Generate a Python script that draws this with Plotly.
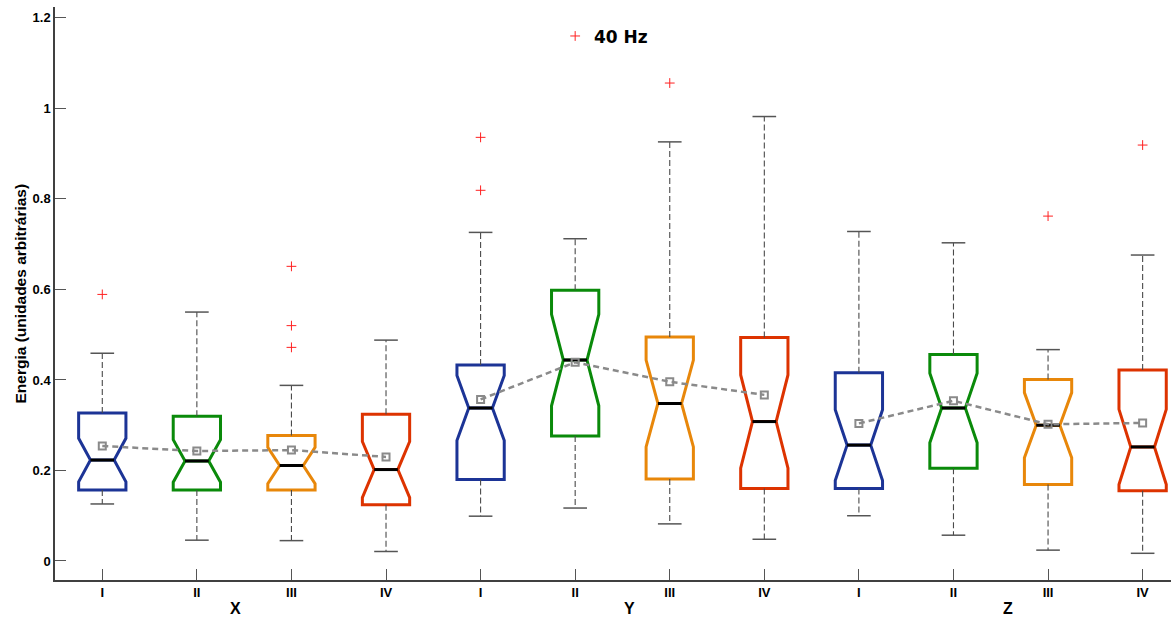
import plotly.graph_objects as go

# ---------------- data ----------------
groups = ["X", "Y", "Z"]
conditions = ["I", "II", "III", "IV"]
tick_labels = conditions * 3
positions = list(range(1, 13))

q1 = [0.157, 0.157, 0.157, 0.124, 0.180, 0.276, 0.181, 0.160, 0.160, 0.205, 0.169, 0.155]
median = [0.223, 0.221, 0.211, 0.202, 0.338, 0.444, 0.348, 0.308, 0.256, 0.338, 0.300, 0.252]
q3 = [0.327, 0.320, 0.277, 0.324, 0.433, 0.598, 0.495, 0.494, 0.416, 0.456, 0.401, 0.422]
lower_whisker = [0.126, 0.046, 0.045, 0.021, 0.099, 0.117, 0.082, 0.048, 0.100, 0.057, 0.024, 0.017]
upper_whisker = [0.459, 0.550, 0.388, 0.488, 0.726, 0.712, 0.926, 0.982, 0.728, 0.703, 0.467, 0.676]
notch_span = [0.048, 0.047, 0.040, 0.062, 0.072, 0.101, 0.096, 0.103, 0.078, 0.077, 0.072, 0.083]
means = [0.254, 0.243, 0.245, 0.230, 0.357, 0.439, 0.396, 0.367, 0.304, 0.354, 0.302, 0.305]
outliers = [[0.589], [], [0.651, 0.520, 0.472], [],
            [0.936, 0.819], [1.160], [1.056], [],
            [], [], [0.762], [0.919]]

title_text = "40 Hz"
y_label = "Energia (unidades arbitrárias)"
y_ticks = [0, 0.2, 0.4, 0.6, 0.8, 1.0, 1.2]
y_tick_text = ["0", "0.2", "0.4", "0.6", "0.8", "1", "1.2"]

# ---------------- styles ----------------
cond_colors = ["#1c3496", "#0a8a0a", "#e8870a", "#dd3300"]
colors = cond_colors * 3
BOX_W = 0.5
HALF_INNER = 0.125
group_label_x = [2.41, 6.57, 10.58]

fig = go.Figure()

for i, p in enumerate(positions):
    fig.add_trace(go.Box(
        x=[p], q1=[q1[i]], median=[median[i]], q3=[q3[i]],
        lowerfence=[q1[i]], upperfence=[q3[i]],
        notched=True, notchspan=[notch_span[i]], notchwidth=0.25,
        width=BOX_W, whiskerwidth=0, boxpoints=False,
        line=dict(color=colors[i], width=3),
        fillcolor="rgba(0,0,0,0)", showlegend=False, hoverinfo="skip"))

# whiskers (dashed)
wx, wy = [], []
for i, p in enumerate(positions):
    wx += [p, p, None, p, p, None]
    wy += [q3[i], upper_whisker[i], None, q1[i], lower_whisker[i], None]
fig.add_trace(go.Scatter(x=wx, y=wy, mode="lines",
                         line=dict(color="#4a4a4a", width=1.1, dash="6px,3px"),
                         showlegend=False, hoverinfo="skip"))

# caps
cx, cy = [], []
for i, p in enumerate(positions):
    for v in (upper_whisker[i], lower_whisker[i]):
        cx += [p - HALF_INNER, p + HALF_INNER, None]
        cy += [v, v, None]
fig.add_trace(go.Scatter(x=cx, y=cy, mode="lines",
                         line=dict(color="#555555", width=1.5),
                         showlegend=False, hoverinfo="skip"))

# medians
mx, my = [], []
for i, p in enumerate(positions):
    mx += [p - HALF_INNER, p + HALF_INNER, None]
    my += [median[i], median[i], None]
fig.add_trace(go.Scatter(x=mx, y=my, mode="lines",
                         line=dict(color="black", width=3),
                         showlegend=False, hoverinfo="skip"))

# outliers
ox, oy = [], []
for i, p in enumerate(positions):
    for v in outliers[i]:
        ox.append(p)
        oy.append(v)
fig.add_trace(go.Scatter(x=ox, y=oy, mode="markers",
                         marker=dict(symbol="cross-thin", size=7,
                                     line=dict(color="#ff2020", width=1)),
                         showlegend=False, hoverinfo="skip"))

# means per group
for g in range(3):
    sl = slice(g * 4, g * 4 + 4)
    fig.add_trace(go.Scatter(x=positions[sl], y=means[sl], mode="lines+markers",
                             line=dict(color="#8a8a8a", width=2.5, dash="6px,4px"),
                             marker=dict(symbol="square-open", size=7,
                                         line=dict(color="#8a8a8a", width=2)),
                             showlegend=False, hoverinfo="skip"))

annotations = [
    dict(text=title_text, x=6.48, y=1.157, xref="x", yref="y", showarrow=False,
         xanchor="center", yanchor="middle",
         font=dict(family="DejaVu Sans", size=17, color="black", weight="bold")),
    dict(text=y_label, x=0, y=0.5, xref="paper", yref="paper", xshift=-35,
         xanchor="center", yanchor="middle",
         showarrow=False, textangle=-90,
         font=dict(family="Liberation Sans", size=15.5, color="black", weight="bold")),
]
for gx, gname in zip(group_label_x, groups):
    annotations.append(dict(text=gname, x=gx, y=0, xref="x", yref="paper",
                            xanchor="center", yanchor="middle",
                            yshift=-28, showarrow=False,
                            font=dict(family="Liberation Sans", size=16, color="black",
                                      weight="bold")))

fig.update_layout(
    width=1171, height=617,
    margin=dict(l=55, r=0, t=7, b=37),
    plot_bgcolor="white", paper_bgcolor="white",
    boxmode="overlay",
    annotations=annotations,
    xaxis=dict(range=[0.5, 12.3], tickvals=positions, ticktext=tick_labels,
               showline=True, linecolor="#404040", linewidth=1.5,
               ticks="inside", ticklen=11, tickcolor="#555555", tickwidth=1,
               showgrid=False, zeroline=False,
               tickfont=dict(family="Liberation Sans", size=13, color="black", weight="bold")),
    yaxis=dict(range=[-0.042, 1.224], tickvals=y_ticks, ticktext=y_tick_text,
               showline=True, linecolor="#404040", linewidth=1.5,
               ticks="inside", ticklen=11, tickcolor="#555555", tickwidth=1,
               showgrid=False, zeroline=False,
               tickfont=dict(family="Liberation Sans", size=13, color="black", weight="bold")),
)

fig.write_html("out.html")
